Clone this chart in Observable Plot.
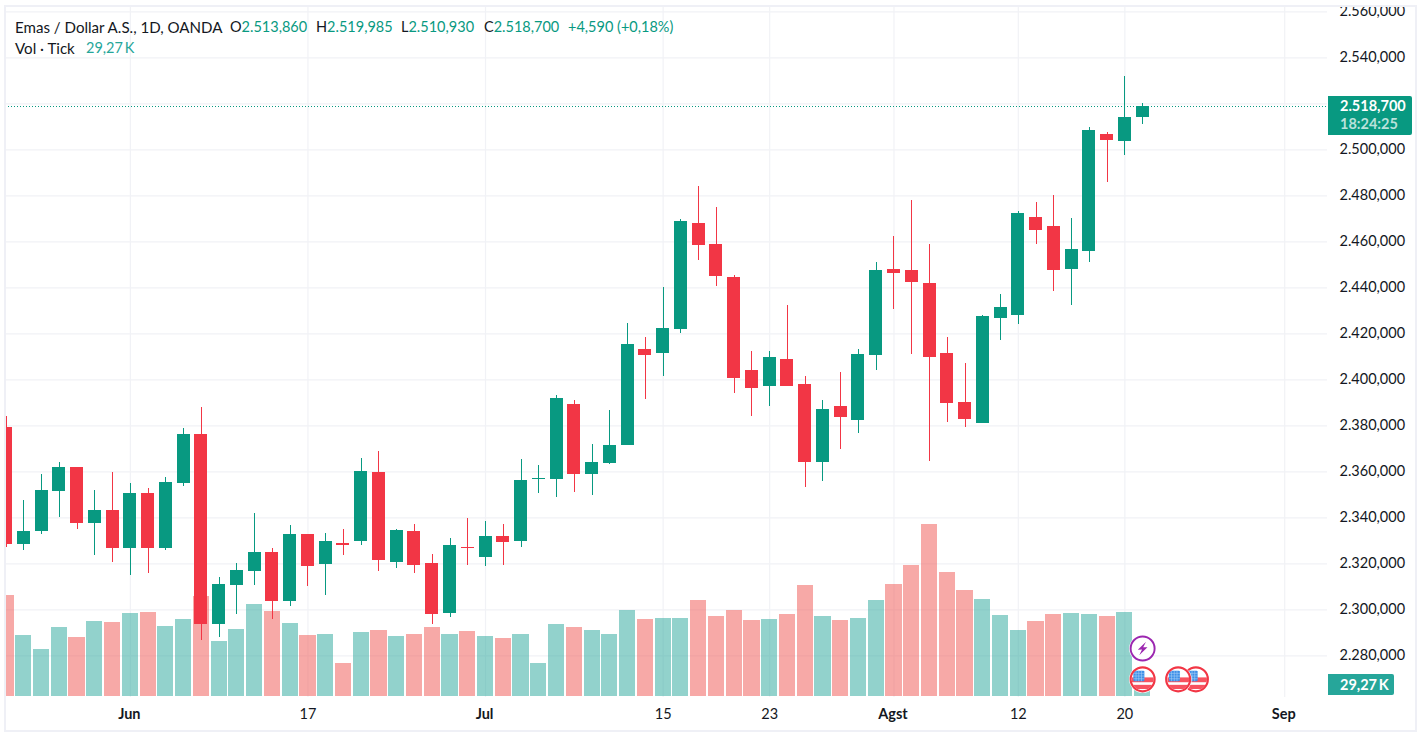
<!DOCTYPE html>
<html>
<head>
<meta charset="utf-8">
<script src="https://cdn.jsdelivr.net/npm/d3@7"></script>
<script src="https://cdn.jsdelivr.net/npm/@observablehq/plot@0.6"></script>
<style>
html,body{margin:0;padding:0;background:#fff;overflow:hidden;}
#wrap{position:relative;width:1418px;height:738px;font-family:Lato,sans-serif;color:#131722;overflow:hidden;}
#wrap svg{display:block;}
.frame{position:absolute;left:4px;top:5px;width:1413px;height:727px;box-sizing:border-box;border:2px solid #eff0f6;pointer-events:none;}
.mask{position:absolute;left:0;top:0;width:1418px;height:5px;background:#fff;}
.legend{position:absolute;left:15px;font-size:14.5px;white-space:pre;line-height:18px;}
.legend span{position:absolute;top:0;}
.legend b{font-weight:400;color:#089981;}
.legend i{font-style:normal;color:#26a69a;}
.tag{position:absolute;left:1328px;color:#fff;border-radius:0 2px 2px 0;box-sizing:border-box;font-size:14.5px;font-weight:700;}
</style>
</head>
<body>
<div id="wrap"></div>
<script>
const open = [2379.3,2328.4,2334.0,2351.4,2361.8,2337.5,2343.2,2326.6,2350.6,2326.6,2354.9,2376.2,2293.6,2310.5,2316.6,2325.0,2303.6,2332.7,2319.6,2328.8,2329.7,2359.7,2320.5,2334.0,2320.1,2298.3,2327.0,2322.7,2331.8,2329.7,2356.6,2356.6,2389.2,2358.8,2363.6,2371.4,2413.2,2411.4,2421.9,2467.9,2458.8,2444.5,2404.0,2397.1,2408.8,2398.0,2364.0,2388.4,2382.3,2410.6,2448.0,2447.5,2441.9,2411.4,2390.1,2381.0,2426.6,2427.9,2470.6,2466.6,2448.0,2455.8,2506.6,2503.6,2513.86];
const close = [2328.4,2334.0,2351.8,2361.8,2337.5,2343.2,2326.6,2350.6,2326.6,2355.3,2376.2,2293.6,2310.9,2317.0,2325.0,2303.6,2332.7,2318.8,2329.7,2328.0,2360.1,2321.4,2334.4,2319.2,2297.9,2328.0,2326.5,2331.8,2329.3,2356.2,2357.0,2391.9,2358.8,2364.0,2371.4,2415.3,2410.6,2422.3,2468.8,2458.4,2444.9,2400.6,2396.2,2409.7,2397.1,2364.0,2387.1,2383.6,2411.0,2447.5,2446.2,2442.3,2409.7,2389.7,2382.7,2427.5,2431.4,2472.3,2464.9,2447.5,2456.6,2508.4,2504.0,2513.86,2518.7];
const high = [2384.0,2347.5,2358.8,2364.0,2361.8,2351.8,2359.7,2354.9,2352.7,2357.5,2378.8,2388.0,2314.0,2320.1,2341.9,2326.6,2336.6,2332.7,2333.2,2334.9,2365.8,2368.8,2334.9,2337.1,2324.0,2331.0,2339.7,2338.4,2337.1,2365.2,2362.7,2393.2,2391.0,2371.8,2386.6,2424.5,2418.4,2440.1,2469.7,2484.0,2474.9,2445.3,2412.3,2412.3,2432.3,2401.4,2391.0,2403.2,2413.2,2451.0,2462.3,2478.0,2458.8,2418.4,2407.1,2427.9,2437.1,2473.2,2477.1,2480.1,2470.1,2509.7,2507.5,2531.9,2519.985];
const low = [2327.1,2325.7,2332.7,2340.1,2334.9,2323.6,2320.5,2315.0,2315.8,2325.7,2353.6,2286.7,2288.0,2297.9,2310.5,2295.7,2301.4,2310.1,2306.1,2323.6,2328.0,2316.6,2317.9,2315.8,2293.6,2296.6,2319.2,2318.8,2319.2,2327.1,2350.6,2348.8,2351.0,2349.7,2363.2,2371.4,2391.4,2401.4,2420.1,2451.9,2440.6,2394.0,2384.0,2388.4,2397.1,2353.2,2355.8,2369.7,2376.6,2404.0,2430.6,2411.0,2364.5,2381.4,2379.3,2381.0,2417.1,2424.0,2458.8,2438.4,2432.3,2451.0,2485.8,2497.5,2510.93];
const volume = [257.0,155.2,119.6,175.6,150.2,190.9,188.3,211.2,213.8,178.2,196.0,254.5,140.0,170.5,234.1,216.3,185.8,155.2,157.8,84.0,162.9,168.0,152.7,157.8,175.6,157.8,165.4,152.7,147.6,157.8,84.0,183.2,175.6,168.0,157.8,218.9,196.0,198.5,198.5,244.3,203.6,218.9,193.4,196.0,208.7,282.5,203.6,193.4,198.5,244.3,285.0,333.4,437.7,315.6,269.8,246.9,206.1,168.0,190.9,208.7,211.2,208.7,203.6,213.8,29.27];

const priceTicks = [2280,2300,2320,2340,2360,2380,2400,2420,2440,2460,2480,2500,2520,2540,2560];
const priceLabelTicks = [2280,2300,2320,2340,2360,2380,2400,2420,2440,2460,2480,2500,2540,2560];
const dayTickIdx = [17,37,43,57,63];
const dayTickLabels = ["17","15","23","12","20"];
const monthTickIdx = [7,27,50,72];
const monthTickLabels = ["Jun","Jul","Agst","Sep"];
const flagEventIdx = [67,66,64];
const flagEventLevel = [2269.8,2269.8,2269.8];
const boltEventIdx = [64];
const boltEventLevel = [2283.2];
const lastPrice = 2518.7;
const lastVolume = 29.27;

const GREEN = "#089981", RED = "#f23645", GRID = "#f1f2f6";
const VOL_GREEN = "#26a69a", VOL_RED = "#ef5350";
const VOL_BASE = 2262.3, VOL_K = 0.1708;          // volume pane shares the price scale
const volToY = v => VOL_BASE + v * VOL_K;

const idr = d3.formatLocale({decimal:",",thousands:".",grouping:[3],currency:["",""]}).format(",.3f");
const candles = open.map((o,i)=>({i,o,c:close[i],h:high[i],l:low[i],v:volume[i],col:close[i]>=o?GREEN:RED,vcol:close[i]>=o?VOL_GREEN:VOL_RED}));

const bolt = "data:image/svg+xml;utf8," + encodeURIComponent('<svg xmlns="http://www.w3.org/2000/svg" viewBox="0 0 30 30"><circle cx="15" cy="15" r="14" fill="#fff"/><circle cx="15" cy="15" r="12.4" fill="#fff" stroke="#9c27b0" stroke-width="2"/><path d="M18.5 8 L10 16.2 L14.4 16 L11.5 22 L20 13.6 L15.6 13.8 Z" fill="#9c27b0"/></svg>');
const flag = "data:image/svg+xml;utf8," + encodeURIComponent('<svg xmlns="http://www.w3.org/2000/svg" viewBox="0 0 30 30"><circle cx="15" cy="15" r="14" fill="#fff"/><clipPath id="c"><circle cx="15" cy="15" r="11.4"/></clipPath><g clip-path="url(#c)"><rect width="30" height="30" fill="#fff"/><rect x="4" y="13" width="24" height="5" fill="#f7525f"/><rect x="4" y="20.7" width="24" height="4.3" fill="#f7525f"/><rect x="5.4" y="6" width="11.4" height="11" rx="1" fill="#3d8fe8"/><path d="M8.2 6V17M11 6V17M13.8 6V17M5.4 8.8H17M5.4 11.6H17M5.4 14.4H17" stroke="#a9d0f7" stroke-width=".6"/></g><circle cx="15" cy="15" r="12.4" fill="none" stroke="#f23645" stroke-width="2.2"/></svg>');

const xOf = Object.fromEntries([...dayTickIdx.map((t,k)=>[t,dayTickLabels[k]]),...monthTickIdx.map((t,k)=>[t,monthTickLabels[k]])]);

const chart = Plot.plot({
  width:1418, height:738,
  marginLeft:5, marginRight:91, marginTop:7, marginBottom:41,
  style:{background:"transparent",fontFamily:"Lato,sans-serif",fontSize:"14.5px",color:"#131722",overflow:"visible"},
  x:{type:"linear",domain:[-0.03,74.41],axis:null},
  y:{type:"linear",domain:[2261.9,2561.9],axis:null},
  color:{type:"identity"},
  marks:[
    Plot.gridY(priceTicks,{stroke:GRID,strokeOpacity:1,strokeWidth:1.2}),
    Plot.gridX([...dayTickIdx,...monthTickIdx],{stroke:GRID,strokeOpacity:1,strokeWidth:1.2}),
    Plot.rect(candles,{x1:d=>d.i-0.455,x2:d=>d.i+0.455,y1:volToY(0),y2:d=>volToY(d.v),fill:"vcol",fillOpacity:0.5,clip:true,shapeRendering:"crispEdges"}),
    Plot.ruleY([lastPrice],{stroke:GREEN,strokeWidth:1,strokeDasharray:"1 2",clip:true,shapeRendering:"crispEdges"}),
    Plot.ruleX(candles,{x:"i",y1:"l",y2:"h",stroke:"col",strokeWidth:1,clip:true,shapeRendering:"crispEdges"}),
    Plot.rect(candles,{x1:d=>d.i-0.366,x2:d=>d.i+0.366,y1:"o",y2:"c",fill:"col",clip:true,shapeRendering:"crispEdges"}),
    Plot.image(flagEventIdx.map((x,k)=>({x,y:flagEventLevel[k]})),{x:"x",y:"y",src:()=>flag,width:29,height:29}),
    Plot.image(boltEventIdx.map((x,k)=>({x,y:boltEventLevel[k]})),{x:"x",y:"y",src:()=>bolt,width:29,height:29}),
    Plot.axisY(priceLabelTicks,{anchor:"right",tickSize:0,tickPadding:12,tickFormat:idr,label:null,textAnchor:"start",fill:"#131722",dy:-1}),
    Plot.axisX(dayTickIdx,{anchor:"bottom",tickSize:0,tickPadding:11,tickFormat:t=>xOf[t],label:null,fill:"#131722"}),
    Plot.axisX(monthTickIdx,{anchor:"bottom",tickSize:0,tickPadding:11,tickFormat:t=>xOf[t],label:null,fill:"#131722",fontWeight:"bold",dx:-1})
  ]
});

const wrap = document.getElementById("wrap");
wrap.appendChild(chart);
const yS = chart.scale("y");

function add(cls, css, html){const d=document.createElement("div");d.className=cls;d.style.cssText=css;d.innerHTML=html;wrap.appendChild(d);return d;}
add("mask","","");
add("frame","","");
add("legend","top:18px;",
  `<span style="font-size:15.1px">Emas / Dollar A.S., 1D, OANDA</span>`+
  `<span style="left:215px">O<b>2.513,860</b></span>`+
  `<span style="left:301px">H<b>2.519,985</b></span>`+
  `<span style="left:386px">L<b>2.510,930</b></span>`+
  `<span style="left:469px">C<b>2.518,700</b></span>`+
  `<span style="left:553px"><b>+4,590 (+0,18%)</b></span>`);
add("legend","top:39px;",
  `<span style="font-size:15.1px">Vol · Tick</span><span style="left:71px"><i>29,27\u2009K</i></span>`);
const py = yS.apply(lastPrice), vy = yS.apply(volToY(lastVolume));
add("tag",`top:${py-10.6}px;width:84px;height:39px;background:${GREEN};padding:1px 0 0 12px;line-height:18px;`,
    `2.518,700<div style="font-weight:700;color:rgba(255,255,255,.72);line-height:18px;">18:24:25</div>`);
add("tag",`top:${vy-10.5}px;width:66px;height:21px;background:#26a69a;padding-left:12px;line-height:21px;`,"29,27\u2009K");
</script>
</body>
</html>
